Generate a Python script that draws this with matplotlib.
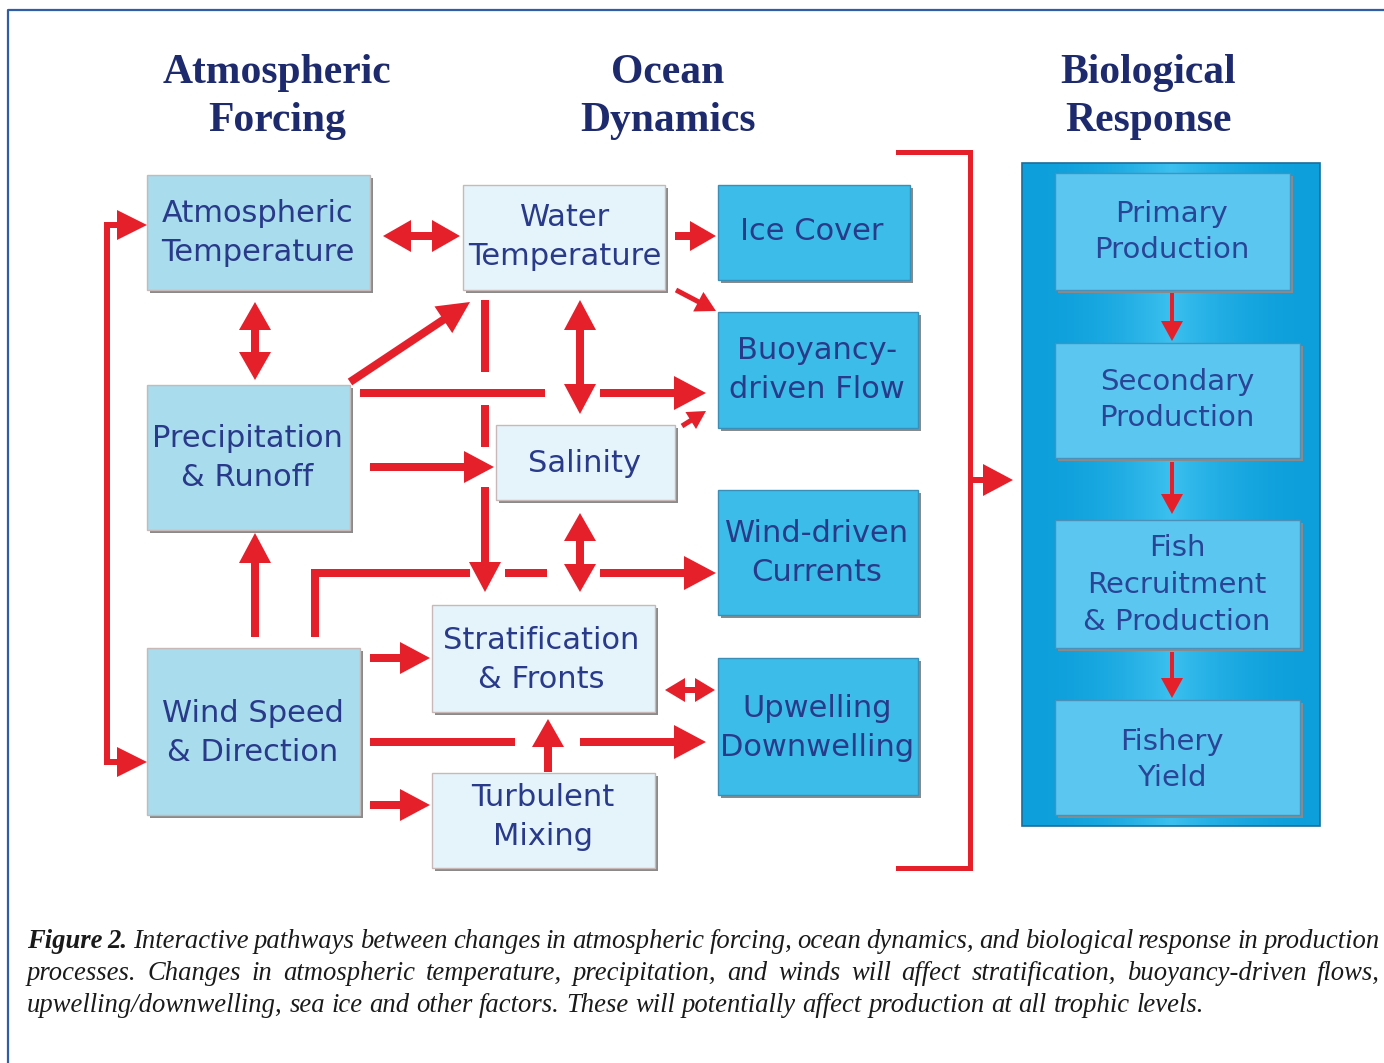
import matplotlib
matplotlib.use("Agg")
import matplotlib.pyplot as plt
import numpy as np
from matplotlib.patches import Rectangle, Polygon

# ---------------- content ----------------
headings = ["Atmospheric\nForcing", "Ocean\nDynamics", "Biological\nResponse"]

forcing_labels = ["Atmospheric\nTemperature", "Precipitation\n& Runoff", "Wind Speed\n& Direction"]
ocean_inner_labels = ["Water\nTemperature", "Salinity", "Stratification\n& Fronts", "Turbulent\nMixing"]
ocean_outer_labels = ["Ice Cover", "Buoyancy-\ndriven Flow", "Wind-driven\nCurrents", "Upwelling\nDownwelling"]
bio_labels = ["Primary\nProduction", "Secondary\nProduction", "Fish\nRecruitment\n& Production", "Fishery\nYield"]

caption_lines = [
    "Figure 2. Interactive pathways between changes in atmospheric forcing, ocean dynamics, and biological response in production",
    "processes. Changes in atmospheric temperature, precipitation, and winds will affect stratification, buoyancy-driven flows,",
    "upwelling/downwelling, sea ice and other factors. These will potentially affect production at all trophic levels.",
]

# ---------------- layout (pixels) ----------------
W, H = 1384, 1063
fig = plt.figure(figsize=(W / 100, H / 100), dpi=100)
ax = fig.add_axes([0, 0, 1, 1])
ax.set_xlim(0, W)
ax.set_ylim(H, 0)
ax.axis("off")

RED = "#e5202b"
NAVY = "#1e2a6e"
TXT = "#2a3a8a"
MID = "#a9dcec"
LIGHT = "#e5f4fb"
BRIGHT = "#3cbce9"

# frame
ax.plot([8, 8, W + 5], [H + 5, 10, 10], color="#2f5ea6", lw=1.6, solid_capstyle="butt")

def box(x0, y0, x1, y1, fc, label, tx=None, ty=None, fs=22, color=TXT, z=2, edge="#c9b8b8"):
    ax.add_patch(Rectangle((x0 + 3, y0 + 3), x1 - x0, y1 - y0, fc="#8a8a8a", ec="none", zorder=z))
    ax.add_patch(Rectangle((x0, y0), x1 - x0, y1 - y0, fc=fc, ec=edge, lw=1.0, zorder=z + 0.1))
    tx = (x0 + x1) / 2 if tx is None else tx
    ty = (y0 + y1) / 2 if ty is None else ty
    ax.text(tx, ty, label, ha="center", va="center", fontsize=fs, color=color,
            family="DejaVu Sans", linespacing=1.4, zorder=z + 0.2)

# headings
head_x = [277, 668, 1148]
for hx, ht in zip(head_x, headings):
    ax.text(hx, 97, ht, ha="center", va="center", fontsize=30, fontweight="bold",
            family="Liberation Serif", color=NAVY, linespacing=1.36)

# forcing boxes
forcing_rects = [(147, 175, 370, 290), (147, 385, 350, 530), (147, 648, 360, 815)]
forcing_text = [(258, 233), (247, 458), (253, 733)]
for r, lab, (tx, ty) in zip(forcing_rects, forcing_labels, forcing_text):
    box(*r, MID, lab, tx, ty)

# ocean inner boxes
inner_rects = [(463, 185, 665, 290), (496, 425, 675, 500), (432, 605, 655, 712), (432, 773, 655, 868)]
inner_text = [(565, 237), (585, 464), (541, 660), (543, 817)]
for r, lab, (tx, ty) in zip(inner_rects, ocean_inner_labels, inner_text):
    box(*r, LIGHT, lab, tx, ty)

# ocean outer boxes
outer_rects = [(718, 185, 910, 280), (718, 312, 918, 428), (718, 490, 918, 615), (718, 658, 918, 795)]
outer_text = [(812, 232), (817, 370), (817, 553), (817, 728)]
for r, lab, (tx, ty) in zip(outer_rects, ocean_outer_labels, outer_text):
    box(*r, BRIGHT, lab, tx, ty, edge="#3a8fb8")

# biological panel with gradient
bx0, by0, bx1, by1 = 1022, 163, 1320, 826
grad = np.linspace(0, 1, 300)
prof = 1 - np.abs(grad - 0.5) * 2
cols = np.zeros((1, 300, 3))
c_edge = np.array([0x0c, 0x9f, 0xdb]) / 255
c_mid = np.array([0x3c, 0xc0, 0xef]) / 255
cols[0] = c_edge + (c_mid - c_edge) * (prof ** 2)[:, None]
ax.imshow(cols, extent=(bx0, bx1, by1, by0), aspect="auto", zorder=1.5)
ax.add_patch(Rectangle((bx0, by0), bx1 - bx0, by1 - by0, fc="none", ec="#1b6e9a", lw=1.2, zorder=1.6))
ax.set_xlim(0, W)
ax.set_ylim(H, 0)

bio_rects = [(1055, 173, 1290, 290), (1055, 343, 1300, 458), (1055, 520, 1300, 648), (1055, 700, 1300, 815)]
bio_text = [(1172, 232), (1177, 400), (1177, 585), (1172, 760)]
for r, lab, (tx, ty) in zip(bio_rects, bio_labels, bio_text):
    box(*r, "#5bc7f1", lab, tx, ty, fs=21, color="#2a4596", edge="#4a90b8")

# ---------------- arrows ----------------
def head(tip, frm, L=30, Wd=16, z=4):
    tip = np.array(tip, float); frm = np.array(frm, float)
    d = tip - frm; d /= np.hypot(*d)
    n = np.array([-d[1], d[0]])
    base = tip - L * d
    ax.add_patch(Polygon([tip, base + Wd * n, base - Wd * n], closed=True, fc=RED, ec="none", zorder=z))
    return base + 0.3 * L * d

def arrow(pts, heads="end", lw=8, L=30, Wd=16):
    pts = [np.array(p, float) for p in pts]
    p = list(pts)
    if heads in ("end", "both"):
        p[-1] = head(pts[-1], pts[-2], L, Wd)
    if heads in ("start", "both"):
        p[0] = head(pts[0], pts[1], L, Wd)
    xs = [q[0] for q in p]; ys = [q[1] for q in p]
    ax.plot(xs, ys, color=RED, lw=lw * 0.72, solid_capstyle="butt", solid_joinstyle="miter", zorder=3.9)

def seg(p0, p1, lw=8):
    ax.plot([p0[0], p1[0]], [p0[1], p1[1]], color=RED, lw=lw * 0.72, solid_capstyle="butt", zorder=3.9)

# left loop between atmospheric temperature and wind
arrow([(147, 225), (107, 225), (107, 762), (147, 762)], "both", lw=6, L=30, Wd=15)
# atm temp <-> water temp
arrow([(383, 236), (460, 236)], "both", L=28, Wd=16)
# atm temp <-> precipitation
arrow([(255, 302), (255, 380)], "both", L=28, Wd=16)
# water temp -> ice cover, buoyancy
arrow([(675, 236), (716, 236)], "end", L=26, Wd=15)
arrow([(676, 290), (716, 311)], "end", lw=5, L=20, Wd=11)
# precip -> water temp
arrow([(350, 382), (470, 302)], "end", L=32, Wd=16)
# precip -> buoyancy
seg((360, 393), (545, 393))
arrow([(600, 393), (706, 393)], "end", L=32, Wd=17)
# small diagonal into buoyancy
arrow([(682, 426), (706, 411)], "end", lw=5, L=18, Wd=10)
# dashed vertical from water temp down to stratification
seg((485, 300), (485, 372))
seg((485, 405), (485, 447))
arrow([(485, 487), (485, 592)], "end", L=30, Wd=16)
# salinity <-> water temp, salinity <-> stratification
arrow([(580, 300), (580, 414)], "both", L=30, Wd=16)
arrow([(580, 513), (580, 592)], "both", L=28, Wd=16)
# precip -> salinity
arrow([(370, 467), (494, 467)], "end", L=30, Wd=16)
# wind -> precip
arrow([(255, 637), (255, 533)], "end", L=30, Wd=16)
# wind -> wind-driven currents
seg((315, 637), (315, 573))
seg((311, 573), (470, 573))
seg((505, 573), (547, 573))
arrow([(600, 573), (716, 573)], "end", L=32, Wd=17)
# wind -> stratification
arrow([(370, 658), (430, 658)], "end", L=30, Wd=16)
# wind -> upwelling
seg((370, 742), (515, 742))
arrow([(580, 742), (706, 742)], "end", L=32, Wd=17)
# turbulent -> stratification
arrow([(548, 772), (548, 719)], "end", L=28, Wd=16)
# wind -> turbulent mixing
arrow([(370, 805), (430, 805)], "end", L=30, Wd=16)
# stratification <-> upwelling
arrow([(665, 690), (715, 690)], "both", lw=6, L=20, Wd=12)

# bracket into biological response
ax.plot([898, 970, 970, 898], [152, 152, 868, 868], color=RED, lw=5 * 0.72,
        solid_joinstyle="miter", zorder=3.9)
arrow([(970, 480), (1013, 480)], "end", lw=6, L=30, Wd=16)

# small arrows in biological panel
for y0, y1 in [(293, 341), (462, 514), (652, 698)]:
    arrow([(1172, y0), (1172, y1)], "end", lw=4, L=20, Wd=11)

# ---------------- caption (justified) ----------------
fig.canvas.draw()
renderer = fig.canvas.get_renderer()

def width_of(s, **kw):
    t = ax.text(0, 0, s, **kw)
    w = t.get_window_extent(renderer).width
    t.remove()
    return w

cap_kw = dict(family="Liberation Serif", style="italic", color="#1a1a1a")
target3 = 1203 - 27
base_fs = 18
w3 = width_of(caption_lines[2], fontsize=base_fs, **cap_kw)
cfs = base_fs * target3 / w3

line_y = [941, 973, 1005]
x_left, x_right = 27, 1380
for i, (line, y) in enumerate(zip(caption_lines, line_y)):
    words = line.split(" ")
    styles = []
    for j, wd in enumerate(words):
        bold = (i == 0 and j < 2)
        styles.append(dict(fontsize=cfs, fontweight="bold" if bold else "normal", **cap_kw))
    widths = [width_of(wd, **st) for wd, st in zip(words, styles)]
    if i < 2:
        gap = (x_right - x_left - sum(widths)) / (len(words) - 1)
    else:
        gap = width_of("a b", fontsize=cfs, **cap_kw) - width_of("ab", fontsize=cfs, **cap_kw)
    x = x_left
    for wd, st, wdt in zip(words, styles, widths):
        ax.text(x, y, wd, ha="left", va="center", **st)
        x += wdt + gap

fig.savefig("out.png", dpi=100)
